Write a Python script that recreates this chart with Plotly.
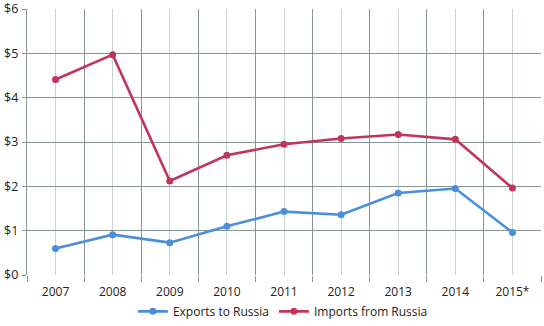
import plotly.graph_objects as go

years = ["2007", "2008", "2009", "2010", "2011", "2012", "2013", "2014", "2015*"]
exports = [0.60, 0.91, 0.73, 1.10, 1.43, 1.36, 1.85, 1.95, 0.96]
imports = [4.41, 4.97, 2.12, 2.70, 2.95, 3.08, 3.17, 3.06, 1.96]
y_ticks = [0, 1, 2, 3, 4, 5, 6]

xpos = list(range(len(years)))
bounds = [i - 0.5 for i in range(len(years) + 1)]

fig = go.Figure()
fig.add_trace(go.Scatter(x=xpos, y=exports, name="Exports to Russia", mode="lines+markers",
                         line=dict(color="#4A8FDC", width=2.6),
                         marker=dict(color="#4A8FDC", size=7)))
fig.add_trace(go.Scatter(x=xpos, y=imports, name="Imports from Russia", mode="lines+markers",
                         line=dict(color="#C2355A", width=2.6),
                         marker=dict(color="#C2355A", size=7)))

fig.update_layout(
    width=544, height=326,
    margin=dict(l=27, r=3, t=9, b=51, autoexpand=False),
    paper_bgcolor="white", plot_bgcolor="white",
    font=dict(family="Open Sans", size=12, color="#222"),
    showlegend=True,
    legend=dict(orientation="h", x=0.52, xanchor="center", xref="container",
                y=0.045, yanchor="middle", yref="container",
                font=dict(size=12)),
    xaxis=dict(
        range=[-0.5, 8.5], tickmode="array", tickvals=xpos, ticktext=years,
        showgrid=True, gridcolor="#C9D3D1", gridwidth=1.3,
        ticks="", showline=False, zeroline=False, automargin=False,
        ticklabelstandoff=8,
        minor=dict(tickmode="array", tickvals=bounds, showgrid=True,
                   gridcolor="#879494", gridwidth=1.3, ticks="outside",
                   ticklen=6, tickcolor="#879494"),
        tickfont=dict(size=12), fixedrange=True,
    ),
    yaxis=dict(
        range=[0, 6], tickmode="array", tickvals=y_ticks,
        ticktext=["$" + str(v) for v in y_ticks],
        showgrid=True, gridcolor="#879494", gridwidth=1.3,
        showline=True, linecolor="#879494", linewidth=1.3,
        ticks="outside", ticklen=4, tickcolor="#879494", ticklabelstandoff=1,
        ticklabeloverflow="allow",
        zeroline=False, tickfont=dict(size=12.5), fixedrange=True, automargin=False,
    ),
)

fig.write_html("out.html", config={"displayModeBar": False},
               post_script="document.body.style.margin='0';")
